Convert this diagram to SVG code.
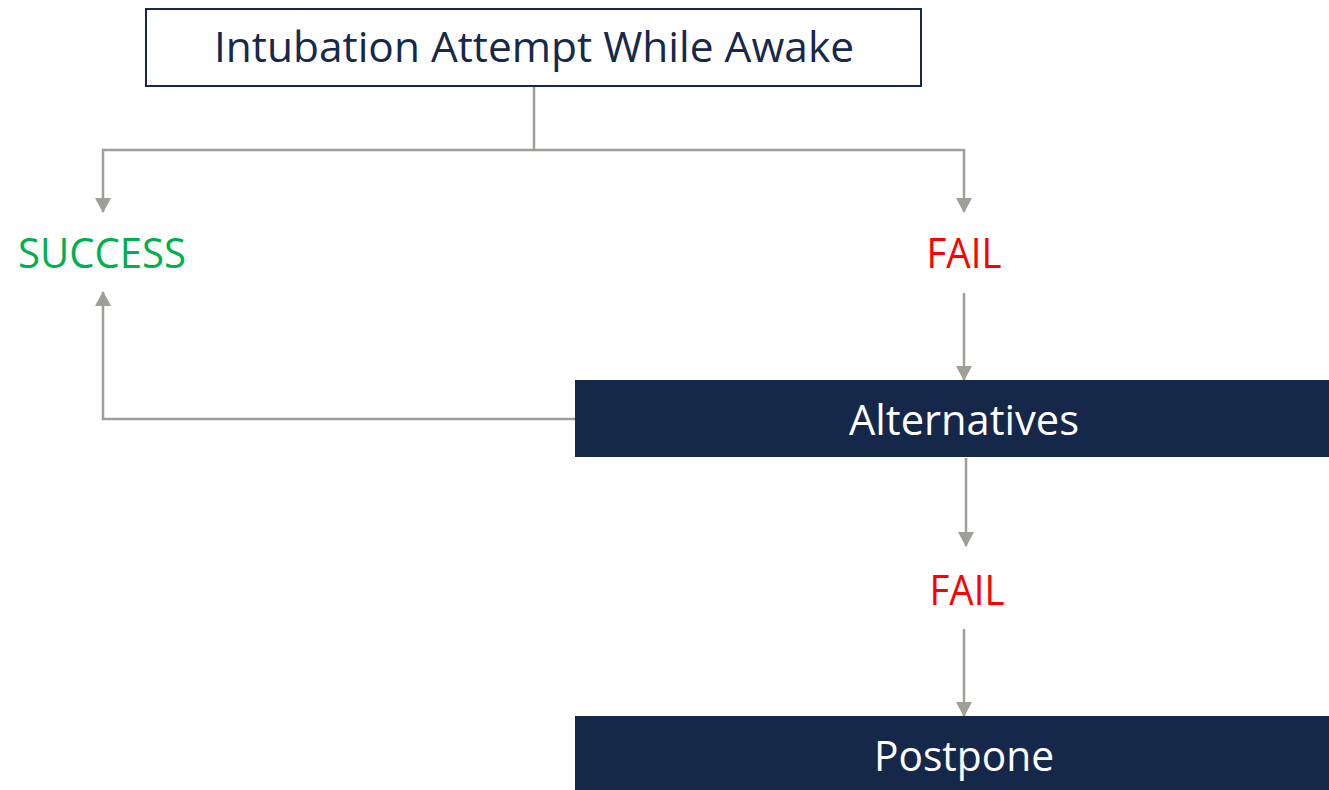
<svg xmlns="http://www.w3.org/2000/svg" width="1329" height="790" viewBox="0 0 1329 790">
<style>
.t{font-family:"Open Sans","Noto Sans","Liberation Sans",sans-serif;font-size:42px;text-anchor:middle}
.c{fill:none;stroke:#A19E9A;stroke-width:2.5}
.dark{fill:#16284A}
</style>
<defs>
<marker id="ah" markerWidth="15" markerHeight="16" refX="14" refY="8" orient="auto" markerUnits="userSpaceOnUse" viewBox="0 0 15 16">
<path d="M0,0 L15,8 L0,16 Z" fill="#A19E9A"/>
</marker>
</defs>
<rect width="1329" height="790" fill="#fff"/>
<g id="connectors">
<path class="c" d="M534,87 V150 H103 V212" marker-end="url(#ah)"/>
<path class="c" d="M534,150 H964 V212" marker-end="url(#ah)"/>
<path class="c" d="M964,293 V380" marker-end="url(#ah)"/>
<path class="c" d="M575,419 H103 V292" marker-end="url(#ah)"/>
<path class="c" d="M966,458 V546" marker-end="url(#ah)"/>
<path class="c" d="M964,629 V716" marker-end="url(#ah)"/>
</g>
<g id="attempt">
<rect x="146" y="9" width="775" height="77" fill="#fff" stroke="#17284A" stroke-width="2"/>
<text class="t" x="534" y="62" fill="#17284A" textLength="640" lengthAdjust="spacingAndGlyphs">Intubation Attempt While Awake</text>
</g>
<g id="success">
<text class="t" x="102" y="268" fill="#00B050" textLength="168" lengthAdjust="spacingAndGlyphs">SUCCESS</text>
</g>
<g id="fail1">
<text class="t" x="964" y="268" fill="#FF0000" textLength="75" lengthAdjust="spacingAndGlyphs">FAIL</text>
</g>
<g id="alternatives">
<rect class="dark" x="575" y="380" width="754" height="77"/>
<text class="t" x="964" y="435" fill="#fff" textLength="230" lengthAdjust="spacingAndGlyphs">Alternatives</text>
</g>
<g id="fail2">
<text class="t" x="967" y="605" fill="#FF0000" textLength="75" lengthAdjust="spacingAndGlyphs">FAIL</text>
</g>
<g id="postpone">
<rect class="dark" x="575" y="716" width="754" height="74"/>
<text class="t" x="964" y="771" fill="#fff" textLength="180" lengthAdjust="spacingAndGlyphs">Postpone</text>
</g>
</svg>
